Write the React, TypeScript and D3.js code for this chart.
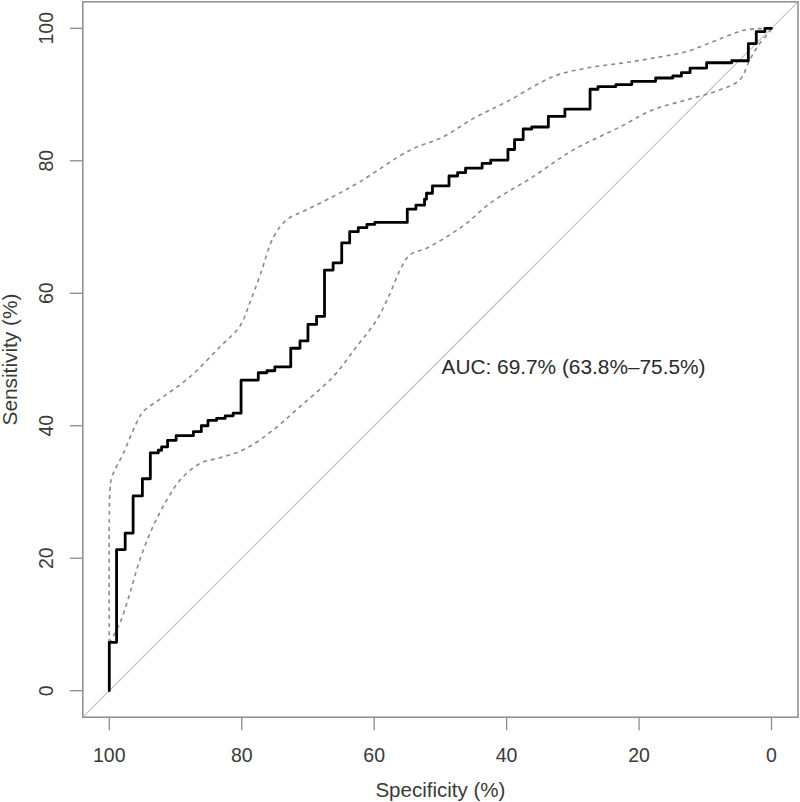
import React from "react";
import * as d3 from "d3";

// ROC step corners (specificity %, sensitivity %)
const rocSpec = [100, 100, 98.9, 97.6, 96.4, 95.0, 93.8, 92.6, 92.1, 91.2, 89.9, 87.3, 86.1, 85.1, 83.8, 82.5, 81.3, 80.1, 77.5, 76.2, 75.0, 72.6, 71.2, 70.0, 68.7, 67.5, 66.2, 64.9, 63.7, 62.4, 61.1, 59.9, 55.0, 53.7, 52.4, 52.1, 51.2, 48.7, 47.4, 46.2, 43.7, 42.4, 39.8, 38.8, 37.5, 36.2, 33.7, 31.2, 27.4, 26.2, 23.5, 21.1, 17.5, 14.9, 13.6, 12.3, 9.8, 6.0, 3.5, 2.3, 1.0, 0];
const rocSens = [0, 7.3, 21.3, 23.8, 29.4, 32.0, 35.9, 36.3, 36.8, 37.8, 38.5, 39.1, 40.0, 40.8, 41.1, 41.5, 41.9, 46.9, 48.0, 48.3, 48.9, 51.7, 52.8, 55.3, 56.5, 63.5, 64.6, 67.6, 69.3, 69.9, 70.4, 70.7, 72.7, 73.3, 74.2, 75.1, 76.2, 77.7, 78.2, 78.9, 79.6, 80.1, 81.7, 83.2, 84.8, 85.1, 86.7, 87.8, 90.8, 91.2, 91.5, 92.0, 92.5, 92.8, 93.3, 94.0, 94.8, 95.1, 97.7, 99.5, 100, 100];

// Upper confidence band
const upperSpec = [100, 100, 99.9, 99.6, 97.9, 95.9, 94.9, 91.8, 87.8, 83.3, 80.3, 78.8, 77.2, 75.2, 73.2, 70.2, 66.2, 62.2, 54.6, 49.6, 45.0, 40.0, 33.0, 27.9, 22.9, 17.9, 12.8, 8.8, 5.8, 3.8, 0];
const upperSens = [7.2, 25.8, 30.3, 32.3, 35.8, 40.4, 42.1, 44.4, 47.4, 51.9, 55.0, 58.5, 62.8, 68.5, 71.1, 72.6, 74.6, 76.8, 81.6, 83.6, 86.4, 88.9, 92.7, 94.0, 94.7, 95.5, 96.5, 98.0, 99.2, 99.8, 100];

// Lower confidence band
const lowerSpec = [100, 98.4, 96.9, 95.4, 93.4, 91.3, 89.3, 86.3, 82.8, 79.3, 75.2, 71.2, 66.2, 62.7, 59.6, 57.6, 56.1, 54.6, 52.1, 49.1, 46.0, 42.5, 36.0, 30.0, 22.9, 17.9, 12.8, 7.8, 4.8, 3.3, 1.8, 0.5, 0];
const lowerSens = [7.2, 10.2, 14.7, 19.7, 24.8, 28.8, 31.8, 34.3, 35.3, 36.6, 39.4, 42.9, 47.4, 51.9, 56.0, 60.0, 63.5, 65.8, 66.8, 68.5, 70.6, 73.6, 77.6, 81.6, 85.1, 87.7, 89.2, 90.7, 92.2, 95.2, 97.7, 99.2, 100];

const xTicks = [100, 80, 60, 40, 20, 0];
const yTicks = [0, 20, 40, 60, 80, 100];
const aucLabel = "AUC: 69.7% (63.8%\u201375.5%)";

const FONT = "'Liberation Sans', Arial, Helvetica, sans-serif";

export default function App() {
  const W = 800, H = 802;
  const x = d3.scaleLinear().domain([104, -4]).range([82.8, 798]);
  const y = d3.scaleLinear().domain([-4, 104]).range([717.2, 1.8]);

  const roc = rocSpec.map((s, i) => [x(s), y(rocSens[i])] as [number, number]);
  const up = upperSpec.map((s, i) => [x(s), y(upperSens[i])] as [number, number]);
  const lo = lowerSpec.map((s, i) => [x(s), y(lowerSens[i])] as [number, number]);

  const stepLine = d3.line().curve(d3.curveStepAfter);
  const smooth = d3.line().curve(d3.curveCatmullRom.alpha(0.5));

  const [x0, x1] = x.range();
  const [y0, y1] = y.range();

  return (
    <svg width={W} height={H} style={{ position: "absolute", left: 0, top: 0, background: "#fff" }}>
      <defs>
        <clipPath id="plotclip">
          <rect x={x0} y={y1} width={x1 - x0} height={y0 - y1} />
        </clipPath>
      </defs>
      {/* diagonal */}
      <line x1={x(104)} y1={y(-4)} x2={x(-4)} y2={y(104)} stroke="#bdbdbd" strokeWidth={1.1} clipPath="url(#plotclip)" />
      {/* CI bands */}
      <path d={smooth(up) || ""} fill="none" stroke="#8a8a8a" strokeWidth={1.6} strokeDasharray="4,4" />
      <path d={smooth(lo) || ""} fill="none" stroke="#8a8a8a" strokeWidth={1.6} strokeDasharray="4,4" />
      {/* ROC */}
      <path d={stepLine(roc) || ""} fill="none" stroke="#000" strokeWidth={2.8} strokeLinejoin="round" strokeLinecap="round" />
      {/* box */}
      <rect x={x0} y={y1} width={x1 - x0} height={y0 - y1} fill="none" stroke="#8c8c8c" strokeWidth={1.5} />
      {/* x axis ticks */}
      {xTicks.map((t) => (
        <g key={"x" + t}>
          <line x1={x(t)} x2={x(t)} y1={y0} y2={y0 + 13} stroke="#8c8c8c" strokeWidth={1.3} />
          <text x={x(t)} y={762} textAnchor="middle" fontFamily={FONT} fontSize={19.5} fill="#3a3a3a">{t}</text>
        </g>
      ))}
      {/* y axis ticks */}
      {yTicks.map((t) => (
        <g key={"y" + t}>
          <line x1={x0 - 13} x2={x0} y1={y(t)} y2={y(t)} stroke="#8c8c8c" strokeWidth={1.3} />
          <text transform={`translate(53,${y(t)}) rotate(-90)`} textAnchor="middle" fontFamily={FONT} fontSize={19.5} fill="#3a3a3a">{t}</text>
        </g>
      ))}
      <text x={(x0 + x1) / 2} y={797} textAnchor="middle" fontFamily={FONT} fontSize={20} textLength={130} lengthAdjust="spacingAndGlyphs" fill="#3a3a3a">Specificity (%)</text>
      <text transform={`translate(17,${(y0 + y1) / 2}) rotate(-90)`} textAnchor="middle" fontFamily={FONT} fontSize={20} textLength={132} lengthAdjust="spacingAndGlyphs" fill="#3a3a3a">Sensitivity (%)</text>
      <text x={441.5} y={373.5} fontFamily={FONT} fontSize={20} textLength={264} lengthAdjust="spacingAndGlyphs" fill="#2a2a2a">{aucLabel}</text>
    </svg>
  );
}
